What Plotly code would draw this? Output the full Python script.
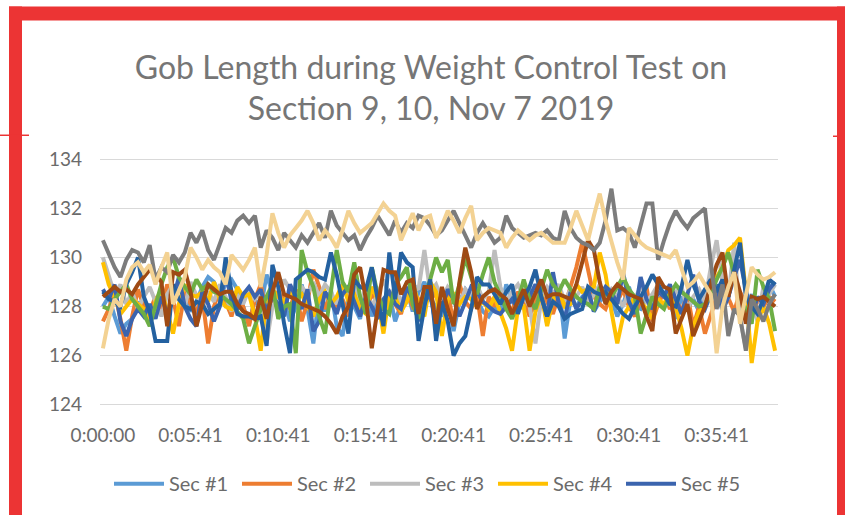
import plotly.graph_objects as go

# ---------------- data ----------------
series_names = ["Sec #1", "Sec #2", "Sec #3", "Sec #4", "Sec #5",
                "Sec #6", "Sec #7", "Sec #8", "Sec #9", "Sec #10"]

tick_labels = ["0:00:00", "0:05:41", "0:10:41", "0:15:41",
               "0:20:41", "0:25:41", "0:30:41", "0:35:41"]

y_ticks = [124, 126, 128, 130, 132, 134]

sec1 = [128.0,128.4,127.6,126.9,127.3,127.5,128.2,127.7,127.6,128.1,
        128.6,127.4,128.5,129.0,128.3,127.8,128.2,128.8,129.2,129.0,
        128.4,128.9,129.1,128.7,128.0,127.3,128.3,127.9,129.3,128.6,
        127.8,128.2,127.4,128.0,128.9,127.9,126.5,128.5,127.8,128.7,
        127.2,126.8,128.4,128.0,127.5,128.9,127.6,128.3,127.9,128.5,
        127.4,128.1,128.7,127.8,128.6,129.0,128.3,128.0,127.6,128.4,
        127.0,128.2,128.7,128.4,128.3,127.8,127.6,128.0,127.7,128.9,
        128.2,127.9,128.4,128.6,127.8,128.7,127.3,128.4,128.9,126.7,
        128.3,128.0,128.4,128.6,127.8,128.2,128.5,128.3,127.6,128.1,
        128.8,128.0,127.9,128.4,127.7,128.2,128.6,128.1,127.5,128.4,
        127.9,128.3,127.8,128.7,128.2,128.9,128.0,128.4,129.6,128.3,
        127.9,128.5,127.6,128.2,128.9,128.4]

sec2 = [127.4,127.9,128.6,127.5,126.2,127.6,128.7,128.0,127.8,128.4,
        127.9,128.9,128.3,127.2,128.6,128.1,127.8,128.4,126.5,128.0,
        128.7,128.2,127.6,128.5,128.0,127.2,128.3,128.9,127.7,128.1,
        128.6,128.4,127.9,128.7,127.4,128.2,129.5,128.8,127.9,128.5,
        128.0,128.3,127.6,128.9,128.1,127.8,128.5,128.2,127.9,128.4,
        128.1,127.7,128.6,128.0,128.3,127.9,128.8,128.4,128.0,128.6,
        127.3,128.9,128.2,127.9,128.5,126.8,128.4,128.0,128.7,128.1,
        127.8,128.6,128.3,127.6,128.4,128.9,128.2,127.7,128.5,128.0,
        128.8,129.6,130.6,129.5,128.4,128.1,127.9,128.5,128.2,128.7,
        128.0,127.6,128.3,128.8,127.4,128.1,128.6,127.9,128.3,127.8,
        128.5,127.2,128.0,126.9,127.7,128.4,128.9,128.3,127.8,128.6,
        128.1,127.5,128.3,128.0,128.4,128.2]

sec3 = [130.0,129.2,128.5,128.9,128.1,128.6,127.9,128.4,128.8,128.2,
        127.6,128.5,128.9,128.3,128.0,129.0,128.4,127.9,128.6,128.2,
        128.9,128.4,127.8,128.5,128.1,128.7,128.3,128.6,126.5,128.0,
        128.4,129.1,128.7,128.2,128.8,128.5,129.0,128.4,128.9,128.6,
        128.1,128.7,128.4,128.9,128.3,128.6,128.0,128.5,129.1,128.4,
        128.8,128.2,128.6,128.9,128.7,130.3,128.6,128.9,128.3,128.8,
        128.5,128.1,128.7,128.4,128.9,128.3,128.6,130.3,128.8,128.2,
        128.6,128.9,128.4,128.0,126.5,128.3,128.8,128.5,128.9,128.2,
        128.7,128.4,128.8,128.1,128.5,128.9,128.3,128.7,128.4,128.0,
        128.6,128.3,128.8,128.2,128.5,128.9,128.4,128.1,128.6,128.8,
        127.9,128.4,128.7,128.2,129.6,130.7,129.0,128.3,130.6,127.5,
        126.3,128.2,127.4,128.8,128.5,128.9]

sec4 = [129.8,128.9,128.4,127.7,128.0,128.3,128.1,127.9,127.3,128.2,
        128.7,127.8,126.9,128.1,128.9,128.5,128.4,128.6,128.2,129.0,
        128.3,128.0,127.9,128.8,128.4,128.5,127.6,126.2,128.4,128.7,
        128.4,128.2,128.6,128.3,128.5,128.0,127.6,128.3,128.6,128.1,
        128.4,128.9,128.2,128.5,127.9,127.7,128.8,128.3,126.9,128.5,
        128.4,127.8,128.2,129.0,128.1,127.6,129.0,128.6,126.8,128.3,
        128.5,128.1,128.4,128.3,128.0,128.2,127.9,128.4,127.7,127.1,
        126.2,127.9,128.0,126.2,127.8,128.5,127.2,128.3,128.7,128.0,
        128.1,128.9,128.6,128.7,128.8,130.2,129.3,127.8,126.5,127.6,
        128.0,128.4,128.2,127.9,127.5,128.3,128.1,128.6,128.0,127.1,
        126.0,127.2,127.8,128.0,128.5,129.2,129.6,130.3,130.5,130.8,
        128.6,125.7,127.4,128.0,127.3,126.2]

sec5 = [128.7,128.3,128.9,127.4,126.8,127.5,127.9,127.6,128.1,127.5,
        128.4,127.7,128.3,129.2,128.0,127.5,127.2,128.6,128.1,127.4,
        128.0,129.4,128.2,127.9,128.5,128.8,128.4,128.7,127.8,128.4,
        128.1,127.6,128.9,128.4,127.9,128.7,127.0,127.4,128.6,128.2,
        127.7,128.5,128.8,128.2,127.6,128.4,128.0,127.5,128.3,128.6,
        128.1,127.9,128.8,128.3,127.4,128.2,128.5,127.2,128.0,128.7,
        128.3,127.6,128.2,128.8,128.6,128.2,128.0,127.8,127.7,128.0,
        128.3,127.9,128.6,128.4,128.9,128.4,127.6,129.4,128.1,127.5,
        128.6,127.9,128.3,128.7,127.8,128.4,128.8,128.6,128.1,129.4,
        128.2,127.7,129.2,128.3,127.9,128.6,128.4,128.9,128.3,127.7,
        128.5,129.3,128.2,127.9,128.5,128.9,127.8,128.4,129.2,129.9,
        128.7,127.6,128.4,128.1,128.7,129.0]

sec6 = [128.0,127.9,128.3,128.6,128.9,128.3,128.0,127.7,127.2,128.1,
        128.9,129.6,130.0,129.2,128.8,128.5,129.1,128.7,128.9,128.6,
        128.5,128.3,128.1,127.8,127.5,126.5,127.2,127.9,128.4,128.9,
        127.5,128.0,128.1,126.1,130.3,129.4,128.8,127.6,126.9,128.6,
        130.3,129.0,128.6,129.8,128.4,127.7,129.6,128.5,127.9,127.7,
        128.9,129.2,129.6,128.1,127.5,128.4,129.1,130.0,129.4,129.9,
        128.1,128.9,130.0,129.2,128.5,129.3,130.0,129.0,128.4,127.9,
        127.5,128.2,129.1,128.3,127.9,128.7,129.5,128.9,128.6,129.1,
        128.7,128.4,128.2,128.1,127.9,128.8,128.5,128.4,128.8,129.2,
        128.7,128.4,126.9,127.7,128.4,128.1,127.9,128.5,128.9,128.6,
        128.4,128.2,128.0,128.1,128.5,129.1,129.6,130.2,129.3,128.4,
        127.9,127.3,129.5,128.8,128.3,127.0]

sec7 = [128.6,128.3,128.2,128.0,128.9,129.4,130.0,128.4,127.8,126.6,
        126.6,126.6,128.9,128.3,128.0,127.9,128.2,128.1,127.7,127.9,
        128.1,130.0,128.6,127.7,127.6,127.6,127.5,127.6,126.4,129.7,
        128.8,127.3,126.1,129.1,129.3,129.5,129.4,129.2,129.1,130.2,
        129.3,128.0,126.9,129.1,128.8,128.7,129.6,128.3,127.2,130.2,
        128.3,130.2,129.8,129.6,126.6,128.0,129.1,126.6,128.2,127.4,
        126.0,126.5,126.8,127.9,129.2,128.9,128.9,128.5,128.1,128.6,
        128.9,127.7,128.4,128.8,129.5,128.4,127.6,128.2,128.0,127.5,
        127.7,127.8,127.9,128.8,128.6,128.5,128.6,128.3,128.0,127.7,
        127.5,128.0,128.4,128.8,129.3,128.9,128.5,128.1,128.0,128.8,
        129.9,128.9,128.3,128.7,129.1,128.6,129.1,128.4,129.5,130.6,
        128.4,128.0,127.7,128.3,129.1,128.9]

sec8 = [128.4,128.6,128.8,128.6,128.7,128.5,128.9,129.2,129.5,129.3,
        129.0,127.2,129.4,129.3,129.5,128.6,127.2,128.1,128.9,128.7,
        128.5,128.6,128.6,128.1,127.8,127.7,127.5,128.4,127.5,128.6,
        129.4,128.5,128.4,128.3,128.1,128.0,127.9,127.8,127.6,127.3,
        126.9,127.6,128.0,129.3,129.6,128.3,126.3,128.0,129.5,129.4,
        129.4,128.5,129.0,129.1,127.7,128.8,128.8,127.3,128.8,127.9,
        127.2,129.0,130.4,129.4,127.9,128.4,128.6,128.7,128.5,128.3,
        127.7,128.2,128.7,128.0,128.6,129.1,128.4,128.5,128.5,128.4,
        128.3,128.9,129.8,130.7,130.3,129.0,128.1,128.6,128.9,128.7,
        128.5,128.4,128.3,127.6,127.0,129.2,128.8,128.7,126.9,127.5,
        128.1,126.8,127.4,128.0,128.9,129.7,130.2,128.4,129.4,128.6,
        127.3,128.4,128.3,128.4,128.2,128.0]

sec9 = [130.7,130.1,129.6,129.2,129.9,130.3,130.2,129.8,130.5,129.1,
        129.6,129.4,130.1,129.8,130.2,131.0,130.6,131.1,130.3,129.9,
        130.6,131.2,131.0,131.5,131.7,131.4,131.7,130.4,131.1,130.8,
        130.3,131.0,130.7,130.4,130.9,130.6,131.0,131.4,130.8,131.9,
        131.3,131.0,130.7,130.9,130.3,130.8,131.2,131.7,131.3,130.9,
        131.5,131.0,131.4,131.2,131.7,131.6,131.3,130.9,131.1,131.5,
        131.9,131.4,130.9,130.4,131.0,131.4,131.0,130.6,130.8,131.7,
        131.2,131.0,130.8,130.9,131.0,130.9,131.1,130.8,130.7,131.9,
        131.2,130.8,130.6,130.5,130.3,130.6,131.5,132.8,131.1,131.2,
        131.0,130.4,131.3,132.2,132.2,129.9,130.7,131.4,131.9,131.5,
        131.2,131.6,131.8,132.0,129.8,127.9,128.9,126.8,127.9,127.6,
        126.2,128.3,127.9,127.4,128.1,128.5]

sec10 = [126.3,127.5,128.3,128.0,129.1,129.6,129.8,129.4,129.7,128.9,
         129.6,130.2,128.1,128.7,129.2,130.4,130.0,129.5,129.9,129.6,
         129.4,128.9,130.1,129.8,129.5,129.9,130.4,128.8,130.1,131.8,
         131.0,130.4,130.9,131.2,131.5,131.9,131.4,130.7,131.1,130.8,
         130.4,131.1,131.9,131.4,131.0,131.2,131.4,131.8,132.2,131.9,
         131.7,130.7,131.3,131.8,131.1,131.6,131.7,130.8,131.3,131.9,
         131.5,131.0,131.6,132.1,130.7,131.0,131.2,131.1,131.0,130.4,
         130.8,131.1,130.9,130.7,130.9,131.0,130.8,130.6,130.6,130.6,
         131.2,131.9,131.3,130.7,131.7,132.6,131.5,130.6,129.8,129.1,
         131.2,130.9,130.6,130.4,130.3,130.2,130.1,130.0,130.3,129.6,
         128.8,129.0,129.3,128.9,128.5,126.1,128.0,128.8,129.4,127.3,
         128.4,129.6,129.3,129.1,129.2,129.4]

all_series = [sec1, sec2, sec3, sec4, sec5, sec6, sec7, sec8, sec9, sec10]

# sample timestamps (first sample at 0:00:00, then every 20 s from 0:00:41)
n_samples = len(sec1)
def fmt(sec):
    return "%d:%02d:%02d" % (sec // 3600, (sec % 3600) // 60, sec % 60)
sample_times = [fmt(0)] + [fmt(41 + 20 * i) for i in range(1, n_samples)]

# ---------------- style ----------------
colors = ["#5B9BD5", "#ED7D31", "#BDBDBD", "#FFC000", "#3B64AE",
          "#6DAE45", "#2461A0", "#9E4A14", "#7C7C7C", "#F3D293"]

W, H = 845, 515
Y_LO, Y_HI = 123.95, 134.05
# pixel rows of the 134 and 124 gridlines
PY_TOP_TICK, PY_BOT_TICK = 159, 405
unit = (PY_BOT_TICK - PY_TOP_TICK) / 10.0
MT = PY_TOP_TICK - (Y_HI - 134) * unit
MB = H - (PY_BOT_TICK + (124 - Y_LO) * unit)
ML, MR = 100, 67
PW, PH = W - ML - MR, H - MT - MB

def px2x(px):
    return (px - ML) / PW

def px2y(py):
    return (H - MB - py) / PH

FONT = "Lato"

fig = go.Figure()
for i, (name, vals) in enumerate(zip(series_names, all_series)):
    fig.add_trace(go.Scatter(
        x=sample_times, y=vals, name=name, mode="lines",
        line=dict(color=colors[i], width=4),
        showlegend=(i < 5),
    ))

red = "#EC3434"
shapes = [
    dict(type="rect", xref="paper", yref="paper",
         x0=px2x(9), x1=px2x(22), y0=px2y(525), y1=px2y(6),
         fillcolor=red, line=dict(width=0)),
    dict(type="rect", xref="paper", yref="paper",
         x0=px2x(9), x1=px2x(855), y0=px2y(20), y1=px2y(6),
         fillcolor=red, line=dict(width=0)),
    dict(type="rect", xref="paper", yref="paper",
         x0=px2x(837), x1=px2x(855), y0=px2y(525), y1=px2y(6),
         fillcolor=red, line=dict(width=0)),
    dict(type="line", xref="paper", yref="paper",
         x0=px2x(0), x1=px2x(29), y0=px2y(135), y1=px2y(135),
         line=dict(color=red, width=1.5)),
    dict(type="line", xref="paper", yref="paper",
         x0=px2x(833), x1=px2x(840), y0=px2y(136), y1=px2y(136),
         line=dict(color=red, width=1.5)),
]

fig.update_layout(
    width=W, height=H,
    margin=dict(l=ML, r=MR, t=MT, b=MB, pad=0, autoexpand=False),
    paper_bgcolor="white", plot_bgcolor="white",
    font=dict(family=FONT, color="#6b6b6b"),
    title=dict(
        text="Gob Length during Weight Control Test on<br>Section 9, 10, Nov 7 2019",
        font=dict(family=FONT, size=32, color="#767676"),
        x=431 / W, xref="container", xanchor="center",
        y=1 - 78.5 / H, yref="container", yanchor="middle",
    ),
    xaxis=dict(
        type="category",
        range=[-0.5, n_samples - 0.5],
        tickmode="array",
        tickvals=tick_labels, ticktext=tick_labels,
        showgrid=False, zeroline=False, showline=False,
        ticks="", tickfont=dict(size=19, color="#6b6b6b"),
        ticklabelstandoff=16,
    ),
    yaxis=dict(
        range=[Y_LO, Y_HI],
        tickmode="array", tickvals=y_ticks,
        showgrid=True, gridcolor="#d9d9d9", gridwidth=1,
        zeroline=False, showline=False, ticks="",
        tickfont=dict(size=19, color="#6b6b6b"),
        ticklabelstandoff=17,
    ),
    legend=dict(
        orientation="h", x=px2x(429), xanchor="center",
        y=px2y(484), yanchor="middle",
        font=dict(size=20, color="#6b6b6b"),
        itemwidth=50, entrywidth=63, bgcolor="rgba(0,0,0,0)",
    ),
    shapes=shapes,
)

fig.write_html("out.html",
               config={"displayModeBar": False},
               post_script="document.body.style.margin='0';")
